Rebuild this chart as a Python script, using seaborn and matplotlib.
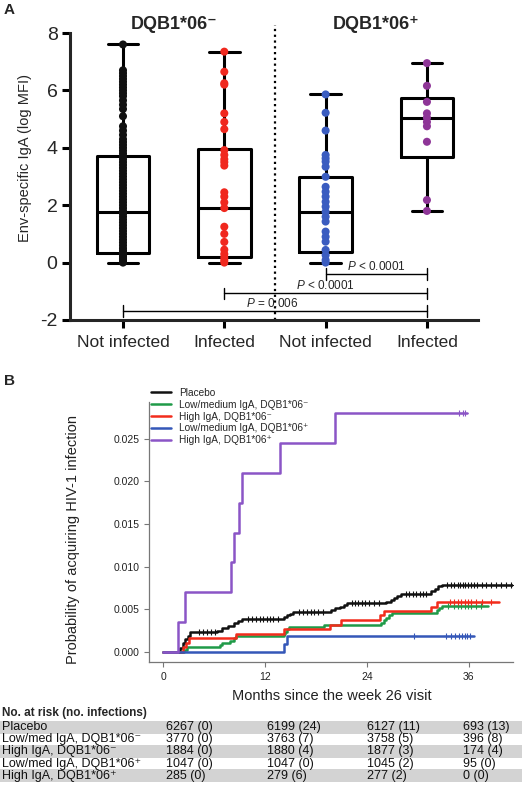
import numpy as np
import pandas as pd
import matplotlib
matplotlib.use("Agg")
import matplotlib.pyplot as plt
from matplotlib.lines import Line2D
import seaborn as sns

sns.set_style("ticks")
plt.rcParams["font.family"] = ["Liberation Sans", "DejaVu Sans"]
plt.rcParams["mathtext.fontset"] = "custom"
plt.rcParams["mathtext.it"] = "Liberation Sans:italic"
plt.rcParams["mathtext.rm"] = "Liberation Sans"
plt.rcParams["axes.unicode_minus"] = False

# ---------------- panel A data ----------------
group_keys = ["neg_ni", "neg_inf", "pos_ni", "pos_inf"]
group_ticks = ["Not infected", "Infected", "Not infected", "Infected"]
group_colors = ["#111111", "#f0281e", "#3a5cc0", "#8e3597"]

iga_neg_not_infected = [0.0, 0.05, 0.1, 0.15, 0.2, 0.28, 0.35, 0.42, 0.5, 0.6, 0.7, 0.8,
                        0.9, 1.0, 1.1, 1.2, 1.3, 1.4, 1.5, 1.6, 1.7, 1.8, 1.9, 2.0, 2.1,
                        2.2, 2.3, 2.4, 2.5, 2.6, 2.7, 2.8, 2.9, 3.0, 3.1, 3.2, 3.3, 3.4,
                        3.5, 3.6, 3.7, 3.8, 3.9, 4.0, 4.1, 4.2, 4.3, 4.45, 4.6, 4.75,
                        5.1, 5.35, 5.5, 5.65, 5.8, 5.9, 6.0, 6.1, 6.2, 6.3, 6.4, 6.5,
                        6.6, 6.7, 7.6]
iga_neg_infected = [7.35, 6.65, 6.25, 6.2, 5.2, 4.9, 4.65, 3.92, 3.75, 3.6, 3.5, 3.38,
                    2.45, 2.3, 2.1, 1.9, 1.25, 1.0, 0.72, 0.45, 0.3, 0.18, 0.08, 0.0]
iga_pos_not_infected = [5.86, 5.22, 4.6, 3.75, 3.63, 3.52, 3.34, 2.99, 2.64, 2.47, 2.3,
                        2.12, 1.95, 1.77, 1.6, 1.43, 1.08, 0.9, 0.73, 0.44, 0.26, 0.09, 0.0]
iga_pos_infected = [6.95, 6.16, 5.6, 5.2, 5.05, 4.9, 4.75, 4.21, 2.18, 1.8]

# box statistics
box_q1 = [0.35, 0.18, 0.38, 3.69]
box_med = [1.78, 1.9, 1.78, 5.05]
box_q3 = [3.72, 3.95, 2.99, 5.72]
box_lo = [0.0, 0.0, 0.0, 1.8]
box_hi = [7.6, 7.33, 5.86, 6.95]

p_texts = ["$P$ < 0.0001", "$P$ < 0.0001", "$P$ = 0.006"]
p_from = [2, 1, 0]
p_to = [3, 3, 3]
p_level = [-0.40, -1.07, -1.69]
p_text_x = [2.5, 2.0, 1.47]

# ---------------- panel B data ----------------
km_names = ["Placebo", "Low/medium IgA, DQB1*06⁻", "High IgA, DQB1*06⁻",
            "Low/medium IgA, DQB1*06⁺", "High IgA, DQB1*06⁺"]
km_colors = ["#111111", "#1f9a48", "#f22c1c", "#3457b8", "#8b55c6"]

placebo_t = [0, 2.0, 2.3, 2.6, 2.9, 3.2, 6.3, 7.0, 7.6, 8.3, 8.8, 9.3, 14.2, 14.6,
             15.0, 15.3, 19.8, 20.3, 20.8, 21.3, 21.7, 26.3, 26.8, 27.2, 27.6, 28.0,
             31.6, 32.0, 32.4, 32.8, 41.2]
placebo_p = [0, 0.0005, 0.0010, 0.0015, 0.0019, 0.0023, 0.0025, 0.0028, 0.0031, 0.0034,
             0.0036, 0.0039, 0.0041, 0.0043, 0.0045, 0.0047, 0.0049, 0.0051, 0.0053,
             0.0055, 0.0057, 0.0059, 0.0061, 0.0063, 0.0066, 0.0068, 0.0071, 0.0074,
             0.0077, 0.0079, 0.0079]
lowneg_t = [0, 2.5, 2.8, 6.7, 7.0, 7.9, 8.4, 8.6, 14.2, 14.4, 14.6, 14.8, 19.0, 25.7,
            26.0, 26.3, 26.6, 26.9, 32.2, 32.5, 32.8, 38.3]
lowneg_p = [0, 0.00027, 0.00053, 0.0008, 0.00106, 0.0013, 0.0016, 0.0019, 0.0021, 0.0024,
            0.0027, 0.0029, 0.0032, 0.0034, 0.0037, 0.0040, 0.0043, 0.0046, 0.0049,
            0.0051, 0.0054, 0.0054]
highneg_t = [0, 2.3, 2.7, 3.0, 8.6, 14.3, 19.6, 20.9, 25.6, 26.0, 31.5, 32.3, 39.6]
highneg_p = [0, 0.00053, 0.0011, 0.0016, 0.0021, 0.0027, 0.0032, 0.0037, 0.0043, 0.0048,
             0.0053, 0.0059, 0.0059]
lowpos_t = [0, 14.2, 14.6, 36.6]
lowpos_p = [0, 0.00096, 0.0019, 0.0019]
highpos_t = [0, 1.8, 2.6, 8.0, 8.3, 8.9, 9.3, 13.8, 20.3, 35.8]
highpos_p = [0, 0.0035, 0.0070, 0.0105, 0.0140, 0.0175, 0.0210, 0.0245, 0.0280, 0.0280]

placebo_cens = [4.2, 4.7, 5.2, 5.7, 6.1, 10.0, 10.5, 11.0, 11.4, 11.8, 12.2, 12.6, 13.0,
                13.5, 16.0, 16.5, 17.0, 17.4, 17.8, 18.3, 18.8, 22.2, 22.6, 23.0, 23.4,
                23.8, 24.3, 24.8, 25.4, 28.6, 29.0, 29.4, 29.8, 30.2, 30.6, 31.0, 33.4,
                33.9, 34.3, 34.7, 35.0, 35.3, 35.6, 35.9, 36.2, 36.6, 37.0, 37.5, 38.0,
                38.6, 39.2, 39.8, 40.4, 41.0]
lowneg_cens = [33.6, 34.2, 34.7, 35.1, 35.5, 35.9, 36.3, 36.8, 37.4]
highneg_cens = [33.8, 34.3, 34.7, 35.1, 35.5, 35.9, 36.3, 36.8, 37.5, 38.6]
lowpos_cens = [29.5, 33.3, 33.9, 34.4, 34.9, 35.2, 35.5, 35.8, 36.1]
highpos_cens = [34.9, 35.3, 35.6]

risk_labels = ["Placebo", "Low/med IgA, DQB1*06⁻", "High IgA, DQB1*06⁻",
               "Low/med IgA, DQB1*06⁺", "High IgA, DQB1*06⁺"]
risk_m0 = ["6267 (0)", "3770 (0)", "1884 (0)", "1047 (0)", "285 (0)"]
risk_m12 = ["6199 (24)", "3763 (7)", "1880 (4)", "1047 (0)", "279 (6)"]
risk_m24 = ["6127 (11)", "3758 (5)", "1877 (3)", "1045 (2)", "277 (2)"]
risk_m36 = ["693 (13)", "396 (8)", "174 (4)", "95 (0)", "0 (0)"]

# ---------------- figure ----------------
fig = plt.figure(figsize=(5.28, 7.95), dpi=100)
axA = fig.add_axes([70 / 528, 1 - 320 / 795, 408 / 528, 287 / 795])
axB = fig.add_axes([149 / 528, 1 - 662 / 795, 364 / 528, 260 / 795])
axT = fig.add_axes([0, 0, 1, 1], zorder=-1)
axT.set_xlim(0, 528)
axT.set_ylim(795, 0)
axT.axis("off")

# panel A
stats = []
for i in range(4):
    stats.append(dict(med=box_med[i], q1=box_q1[i], q3=box_q3[i],
                      whislo=box_lo[i], whishi=box_hi[i], fliers=[]))
lw = 2.2
axA.bxp(stats, positions=range(4), widths=0.52, capwidths=0.3, showfliers=False,
        boxprops=dict(color="black", lw=lw), medianprops=dict(color="black", lw=lw),
        whiskerprops=dict(color="black", lw=lw), capprops=dict(color="black", lw=lw),
        manage_ticks=False, zorder=2)
for a in axA.lines:
    a.set_clip_on(False)

values = [iga_neg_not_infected, iga_neg_infected, iga_pos_not_infected, iga_pos_infected]
dfA = pd.DataFrame({"group": np.repeat(group_keys, [len(v) for v in values]),
                    "iga": np.concatenate(values)})
sns.stripplot(data=dfA, x="group", y="iga", hue="group", order=group_keys,
              hue_order=group_keys, palette=group_colors, jitter=False, size=5.8,
              linewidth=0, legend=False, ax=axA, zorder=3, clip_on=False)

axA.axvline(1.5, ymin=0, ymax=1.028, color="black", ls=(0, (1, 1.6)), lw=1.6,
            clip_on=False)
for txt, a, b, lv, tx in zip(p_texts, p_from, p_to, p_level, p_text_x):
    axA.plot([a, b], [lv, lv], color="black", lw=1.0)
    axA.plot([a, a], [lv - 0.2, lv + 0.2], color="black", lw=1.0)
    axA.plot([b, b], [lv - 0.2, lv + 0.2], color="black", lw=1.0)
    axA.text(tx, lv + 0.04, txt, ha="center", va="bottom", fontsize=8.5)

axA.set_xlim(-0.523, 3.504)
axA.set_ylim(-2, 8)
axA.set_yticks([-2, 0, 2, 4, 6, 8])
axA.set_xticks(range(4))
axA.set_xticklabels(group_ticks)
axA.set_xlabel("")
axA.set_ylabel("")
for s in ["top", "right"]:
    axA.spines[s].set_visible(False)
for s in ["left", "bottom"]:
    axA.spines[s].set_linewidth(2.2)
axA.tick_params(axis="both", width=2.2, length=6, color="black")
axA.tick_params(axis="y", labelsize=14, pad=3)
axA.tick_params(axis="x", labelsize=12.5, pad=5)
axA.text(0.5, 8.28, "DQB1*06⁻", ha="center", va="center", fontsize=13,
         fontweight="bold")
axA.text(2.5, 8.28, "DQB1*06⁺", ha="center", va="center", fontsize=13,
         fontweight="bold")
axT.text(25, 158, "Env-specific IgA (log MFI)", rotation=90, ha="center",
         va="center", fontsize=10.5)

# panel B
curves = [(placebo_t, placebo_p), (lowneg_t, lowneg_p), (highneg_t, highneg_p),
          (lowpos_t, lowpos_p), (highpos_t, highpos_p)]
rows = []
for name, (tt, pp) in zip(km_names, curves):
    for t, p in zip(tt, pp):
        rows.append((name, t, p))
dfB = pd.DataFrame(rows, columns=["group", "month", "prob"])
sns.lineplot(data=dfB, x="month", y="prob", hue="group", hue_order=km_names,
             palette=km_colors, estimator=None, sort=False, drawstyle="steps-post",
             lw=1.8, legend=False, ax=axB)

censors = [placebo_cens, lowneg_cens, highneg_cens, lowpos_cens, highpos_cens]
for (tt, pp), cens, col in zip(curves, censors, km_colors):
    idx = np.searchsorted(tt, cens, side="right") - 1
    axB.plot(cens, np.asarray(pp)[idx], ls="none", marker="+", ms=4.5, mew=0.8,
             color=col)

axB.set_xlim(-1.65, 41.2)
axB.set_ylim(-0.00117, 0.0293)
axB.set_xticks([0, 12, 24, 36])
axB.set_yticks([0.0, 0.005, 0.010, 0.015, 0.020, 0.025])
axB.set_yticklabels(["0.000", "0.005", "0.010", "0.015", "0.020", "0.025"])
axB.set_xlabel("")
axB.set_ylabel("")
for s in ["top", "right"]:
    axB.spines[s].set_visible(False)
for s in ["left", "bottom"]:
    axB.spines[s].set_linewidth(0.9)
    axB.spines[s].set_color("#777777")
axB.tick_params(axis="both", width=0.8, length=3.5, color="#777777",
                labelsize=7.5, labelcolor="#222222")
axB.tick_params(axis="x", pad=4)
axT.text(73, 539, "Probability of acquiring HIV-1 infection", rotation=90,
         ha="center", va="center", fontsize=10.5, color="#222222")
axT.text(332, 696, "Months since the week 26 visit", ha="center", va="center",
         fontsize=10.5, color="#222222")

handles = [Line2D([], [], color=c, lw=1.8) for c in km_colors]
fig.legend(handles, km_names, loc="upper left",
           bbox_to_anchor=(151 / 528, 1 - 388 / 795), frameon=False, fontsize=7.3,
           handlelength=2.0, handletextpad=0.8, labelspacing=0.18, borderpad=0,
           borderaxespad=0)

# panel letters
axT.text(4, 10, "A", fontsize=11, fontweight="bold", va="center")
axT.text(4, 381, "B", fontsize=11, fontweight="bold", va="center")

# at-risk table
axT.text(2, 713, "No. at risk (no. infections)", fontsize=8.5, fontweight="bold",
         va="center")
row_y = [727, 739.2, 751.4, 763.6, 775.8]
col_x = [166, 267, 367, 463]
for i, lab in enumerate(risk_labels):
    if i % 2 == 0:
        axT.axhspan(row_y[i] - 6.5, row_y[i] + 6.5, xmin=0, xmax=522 / 528,
                    color="#d3d3d3", lw=0)
    axT.text(2, row_y[i], lab, fontsize=9, va="center", color="#111111")
    for x, col in zip(col_x, [risk_m0, risk_m12, risk_m24, risk_m36]):
        axT.text(x, row_y[i], col[i], fontsize=9, va="center", color="#111111")

fig.savefig("out.png", dpi=100)
